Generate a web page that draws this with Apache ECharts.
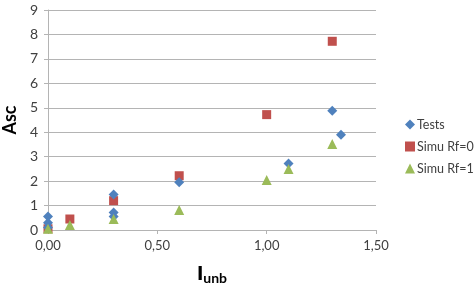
<!DOCTYPE html>
<html>
<head>
<meta charset="utf-8">
<script src="https://cdn.jsdelivr.net/npm/echarts@6/dist/echarts.min.js"></script>
<style>
  html, body { margin: 0; padding: 0; background: #fff; }
  #chart { width: 474px; height: 288px; }
</style>
</head>
<body>
<div id="chart"></div>
<script>
// data: [Iunb, Asc]
var tests = [[0, 0.55], [0, 0.3], [0, 0.1], [0.3, 1.45], [0.3, 0.72], [0.3, 0.55],
    [0.6, 1.95], [1.1, 2.72], [1.3, 4.88], [1.34, 3.9]];
var simuRf0 = [[0, 0.05], [0.1, 0.45], [0.3, 1.2], [0.6, 2.22], [1.0, 4.72], [1.3, 7.72]];
var simuRf1 = [[0, 0.05], [0.1, 0.2], [0.3, 0.45], [0.6, 0.82], [1.0, 2.05], [1.1, 2.5], [1.3, 3.52]];
var seriesNames = ['Tests', 'Simu Rf=0', 'Simu Rf=1'];

var textCol = '#404040';
var gridCol = '#b4b4b4';

var myChart = echarts.init(document.getElementById('chart'));
var option = {
    animation: false,
    textStyle: { fontFamily: 'Lato' },
    grid: { left: 48, top: 10, right: 98, bottom: 58, containLabel: false, outerBoundsMode: 'none' },
    legend: {
        orient: 'vertical',
        left: 400,
        top: 113,
        itemWidth: 10,
        itemHeight: 10,
        itemGap: 9,
        textStyle: { color: textCol, fontSize: 12.5, fontFamily: 'Lato', padding: [0, 0, 0, -3] },
        data: [
            { name: seriesNames[0], icon: 'diamond' },
            { name: seriesNames[1], icon: 'rect' },
            { name: seriesNames[2], icon: 'triangle' }
        ]
    },
    xAxis: {
        type: 'value',
        min: 0,
        max: 1.5,
        interval: 0.5,
        name: '{big|I}{small|unb}',
        nameLocation: 'middle',
        nameGap: 35,
        nameTextStyle: {
            rich: {
                big: { fontSize: 19, fontWeight: 'bold', color: '#000', fontFamily: 'DejaVu Sans Condensed' },
                small: { fontSize: 14, fontWeight: 'bold', color: '#000', fontFamily: 'Lato', padding: [6, 0, 0, 0] }
            }
        },
        axisLine: { show: true, lineStyle: { color: gridCol } },
        axisTick: { show: true, length: 4, lineStyle: { color: gridCol } },
        axisLabel: {
            color: textCol, fontSize: 13, margin: 9,
            formatter: function (v) { return v.toFixed(2).replace('.', ','); }
        },
        splitLine: { show: false }
    },
    yAxis: {
        type: 'value',
        min: 0,
        max: 9,
        interval: 1,
        name: 'Asc',
        nameLocation: 'middle',
        nameGap: 20,
        nameTextStyle: { fontSize: 18, fontWeight: 'bold', color: '#000', fontFamily: 'Lato' },
        axisLine: { show: true, lineStyle: { color: gridCol } },
        axisTick: { show: true, length: 4, lineStyle: { color: gridCol } },
        axisLabel: { color: textCol, fontSize: 14, margin: 10 },
        splitLine: { show: true, lineStyle: { color: gridCol, width: 1 } }
    },
    series: [
        {
            name: seriesNames[0], type: 'scatter', data: tests,
            symbol: 'diamond', symbolSize: 10,
            itemStyle: { color: '#4f81bd', opacity: 1 }, z: 4
        },
        {
            name: seriesNames[1], type: 'scatter', data: simuRf0,
            symbol: 'rect', symbolSize: 9,
            itemStyle: { color: '#c0504d', opacity: 1 }, z: 3
        },
        {
            name: seriesNames[2], type: 'scatter', data: simuRf1,
            symbol: 'triangle', symbolSize: 10,
            itemStyle: { color: '#9bbb59', opacity: 1 }, z: 5
        }
    ]
};
myChart.setOption(option);
</script>
</body>
</html>
